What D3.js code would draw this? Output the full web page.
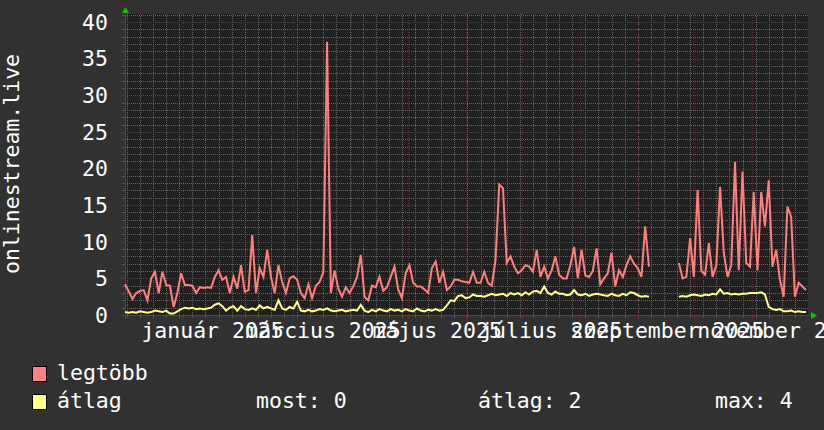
<!DOCTYPE html>
<html><head><meta charset="utf-8">
<script src="https://cdn.jsdelivr.net/npm/d3@7"></script>
<style>
html,body{margin:0;padding:0;background:#313131;}
svg{display:block;}
text{font-family:"DejaVu Sans Mono",monospace;fill:#ffffff;}
</style>
</head><body>
<svg id="chart" width="824" height="430"></svg>
<script>
// ---------------- data ----------------
const startDate = "2024-12-01";
const endDate = "2025-12-01";
const stepDays = 2;
const yTitle = "onlinestream.live";
const seriesNames = ["legtöbb", "átlag"];
const statLabels = ["most: 0", "átlag: 2", "max: 4"];
const yTicks = [0, 5, 10, 15, 20, 25, 30, 35, 40];
const yTop = 41.1;
const labelMonths = ["2025-01-01", "2025-03-01", "2025-05-01", "2025-07-01", "2025-09-01", "2025-11-01"];
const labelTexts = ["január 2025", "március 2025", "május 2025", "július 2025", "szeptember 2025", "november 2025"];

const maxValues = [
  4.2, 3.2, 2.2, 3.0, 3.3, 3.4, 2.0, 5.0, 5.9, 3.0,
  5.9, 4.1, 4.0, 1.1, 3.0, 5.7, 4.1, 4.1, 4.0, 3.0,
  3.8, 3.7, 3.8, 3.7, 5.2, 6.1, 4.8, 5.2, 3.0, 5.2,
  3.6, 6.8, 3.2, 3.4, 10.9, 3.0, 6.4, 5.2, 8.9, 5.2,
  3.0, 6.8, 4.5, 3.0, 5.0, 5.3, 4.8, 3.0, 2.3, 4.2,
  2.3, 4.0, 4.5, 5.9, 37.3, 3.0, 6.1, 3.6, 2.5, 3.8,
  3.0, 3.9, 5.2, 8.2, 2.5, 2.0, 4.0, 3.8, 5.2, 3.3,
  3.8, 5.2, 6.6, 3.5, 2.3, 5.7, 6.8, 4.4, 3.9, 3.9,
  3.5, 3.0, 6.4, 7.3, 4.4, 5.9, 3.4, 3.9, 4.8, 4.8,
  4.6, 4.5, 4.4, 5.9, 4.4, 4.4, 5.9, 4.4, 4.0, 7.5,
  17.8, 17.3, 7.1, 8.0, 6.6, 5.7, 6.1, 6.8, 6.6, 5.9,
  8.9, 5.2, 6.6, 5.0, 6.1, 8.0, 5.5, 5.0, 5.0, 6.8,
  9.3, 5.0, 8.9, 5.4, 5.2, 6.0, 9.1, 4.2, 5.0, 5.7,
  8.5, 3.9, 6.1, 5.2, 6.8, 8.0, 7.0, 6.4, 5.2, 12.1,
  6.6, null, null, null, null, null, null, null, 7.1, 5.0,
  5.2, 10.5, 5.2, 17.1, 6.0, 5.5, 9.8, 5.2, 6.8, 17.5,
  8.5, 5.2, 6.8, 20.9, 6.1, 19.6, 7.1, 6.6, 16.8, 6.1,
  16.8, 12.1, 18.4, 6.6, 8.9, 4.8, 2.5, 14.8, 13.4, 2.5,
  4.4, 3.9, 3.4
];

const avgValues = [
  0.4, 0.3, 0.4, 0.3, 0.5, 0.4, 0.3, 0.4, 0.6, 0.5,
  0.4, 0.6, 0.2, 0.2, 0.5, 0.8, 1.0, 0.9, 1.0, 0.8,
  0.9, 0.8, 0.9, 1.0, 1.4, 1.6, 1.2, 0.6, 1.0, 1.2,
  0.6, 1.2, 0.8, 0.7, 0.9, 0.7, 1.3, 0.9, 1.1, 0.9,
  0.7, 2.0, 0.9, 0.7, 1.1, 0.9, 1.8, 0.6, 0.5, 0.7,
  0.5, 0.6, 0.8, 0.7, 0.9, 0.6, 0.5, 0.6, 0.7, 0.5,
  0.6, 0.7, 0.6, 1.4, 0.6, 0.4, 0.7, 0.5, 0.8, 0.6,
  0.5, 0.8, 0.6, 0.7, 0.5, 0.8, 0.6, 0.5, 0.9, 0.6,
  0.5, 0.7, 0.6, 0.8, 0.6, 0.7, 1.3, 2.0, 1.9, 2.6,
  2.7, 2.3, 2.4, 2.8, 2.6, 2.6, 2.5, 2.7, 2.9, 2.7,
  2.8, 2.9, 2.6, 3.0, 2.8, 3.0, 2.7, 3.1, 2.8, 3.2,
  3.3, 3.0, 3.9, 3.0, 2.8, 3.2, 2.9, 2.9, 2.7, 2.8,
  3.4, 2.8, 2.7, 2.9, 2.6, 2.8, 2.9, 2.8, 2.7, 2.6,
  2.9, 2.7, 2.6, 2.9, 2.7, 3.1, 3.0, 2.7, 2.5, 2.6,
  2.5, null, null, null, null, null, null, null, 2.5, 2.6,
  2.5, 2.7, 2.8, 2.7, 2.6, 2.8, 2.7, 2.9, 2.8, 3.5,
  2.9, 3.0, 2.8, 2.9, 2.8, 2.9, 2.9, 3.0, 3.0, 3.0,
  3.1, 2.8, 1.1, 0.8, 0.7, 0.8, 0.5, 0.5, 0.6, 0.4,
  0.5, 0.4, 0.4
];

// ---------------- layout ----------------
const X0 = 125, X1 = 808, Y0 = 315, Y1 = 14;
const FS = 21.5;
const parse = d3.timeParse("%Y-%m-%d");
const t0 = parse(startDate), t1 = parse(endDate);
const x = d3.scaleTime().domain([t0, t1]).range([X0, X1]);
const y = d3.scaleLinear().domain([0, yTop]).range([Y0, Y1]);
const px = v => Math.round(v) + 0.5;

const svg = d3.select("#chart");
svg.append("rect").attr("width", 824).attr("height", 430).attr("fill", "#313131");
svg.append("rect").attr("x", X0).attr("y", Y1).attr("width", X1 - X0).attr("height", Y0 - Y1).attr("fill", "#202020");

const MINOR = "#666666", MAJOR = "#6e2e2e";
const grid = svg.append("g").attr("shape-rendering", "crispEdges");
// minor horizontal
d3.range(1, Math.floor(yTop) + 1).filter(v => v % 5 !== 0).forEach(v => {
  grid.append("line").attr("x1", X0).attr("x2", X1).attr("y1", px(y(v))).attr("y2", px(y(v)))
    .attr("stroke", MINOR).attr("stroke-dasharray", "1,1");
  grid.append("line").attr("x1", X0 - 3).attr("x2", X0).attr("y1", px(y(v))).attr("y2", px(y(v))).attr("stroke", "#555");
});
// minor vertical (weeks)
d3.timeMonday.range(t0, t1).forEach(d => {
  grid.append("line").attr("x1", px(x(d))).attr("x2", px(x(d))).attr("y1", Y1).attr("y2", Y0)
    .attr("stroke", MINOR).attr("stroke-dasharray", "1,1");
  grid.append("line").attr("x1", px(x(d))).attr("x2", px(x(d))).attr("y1", Y0).attr("y2", Y0 + 3).attr("stroke", "#555");
});
// major vertical (months)
d3.timeMonth.range(t0, t1).forEach(d => {
  grid.append("line").attr("x1", px(x(d))).attr("x2", px(x(d))).attr("y1", Y1).attr("y2", Y0)
    .attr("stroke", MAJOR).attr("stroke-dasharray", "1,2");
  grid.append("line").attr("x1", px(x(d))).attr("x2", px(x(d))).attr("y1", Y0).attr("y2", Y0 + 4).attr("stroke", MAJOR);
});
// major horizontal
yTicks.filter(v => v > 0).forEach(v => {
  grid.append("line").attr("x1", X0).attr("x2", X1).attr("y1", px(y(v))).attr("y2", px(y(v)))
    .attr("stroke", "#7a3232").attr("stroke-dasharray", "1,1");
  grid.append("line").attr("x1", X0 - 4).attr("x2", X0).attr("y1", px(y(v))).attr("y2", px(y(v))).attr("stroke", MAJOR);
});

// axes
grid.append("line").attr("x1", X0 - 4).attr("x2", X1 + 3).attr("y1", px(Y0)).attr("y2", px(Y0)).attr("stroke", "#4a4a4a");
grid.append("line").attr("x1", px(X0)).attr("x2", px(X0)).attr("y1", Y1 - 2).attr("y2", Y0 + 4).attr("stroke", "#4a4a4a");
svg.append("path").attr("d", `M${X0 - 3},${Y1 - 1}L${X0 + 4},${Y1 - 1}L${X0 + 0.5},${Y1 - 7}Z`).attr("fill", "#00cc00");
svg.append("path").attr("d", `M${X1 + 3},${Y0 - 3}L${X1 + 3},${Y0 + 4}L${X1 + 9},${Y0 + 0.5}Z`).attr("fill", "#00cc00");

// series
const dates = maxValues.map((_, i) => d3.timeDay.offset(t0, i * stepDays));
const mk = arr => arr.map((v, i) => ({ d: dates[i], v }));
const line = d3.line().defined(p => p.v !== null).x(p => x(p.d)).y(p => y(p.v));
svg.append("path").datum(mk(avgValues)).attr("d", line).attr("fill", "none")
  .attr("stroke", "#ffff80").attr("stroke-width", 2);
svg.append("path").datum(mk(maxValues)).attr("d", line).attr("fill", "none")
  .attr("stroke", "#ff7f7f").attr("stroke-width", 2);

// y tick labels
yTicks.forEach(v => {
  svg.append("text").attr("x", 108).attr("y", y(v) + 7.8).attr("text-anchor", "end")
    .attr("font-size", FS).text(v);
});
// x labels (centred mid-month)
labelMonths.forEach((m, i) => {
  const c = x(d3.timeDay.offset(parse(m), 15)) + 1.5;
  svg.append("text").attr("x", c).attr("y", 338).attr("text-anchor", "middle")
    .attr("font-size", FS).text(labelTexts[i]);
});
// y title
svg.append("text").attr("transform", "translate(19,164) rotate(-90)").attr("text-anchor", "middle")
  .attr("font-size", FS).text(yTitle);

// legend
const legColors = ["#ff8080", "#ffff80"];
const legY = [366, 394];
const legBase = [380, 408];
seriesNames.forEach((n, i) => {
  svg.append("rect").attr("x", 32.5).attr("y", legY[i] + 0.5).attr("width", 14).attr("height", 15)
    .attr("fill", legColors[i]).attr("stroke", "#000").attr("stroke-width", 1);
  svg.append("text").attr("x", 57).attr("y", legBase[i]).attr("font-size", FS).text(n);
});
const statX = [256, 478, 715];
statLabels.forEach((s, i) => {
  svg.append("text").attr("x", statX[i]).attr("y", legBase[1]).attr("font-size", FS).text(s);
});
</script>
</body></html>
